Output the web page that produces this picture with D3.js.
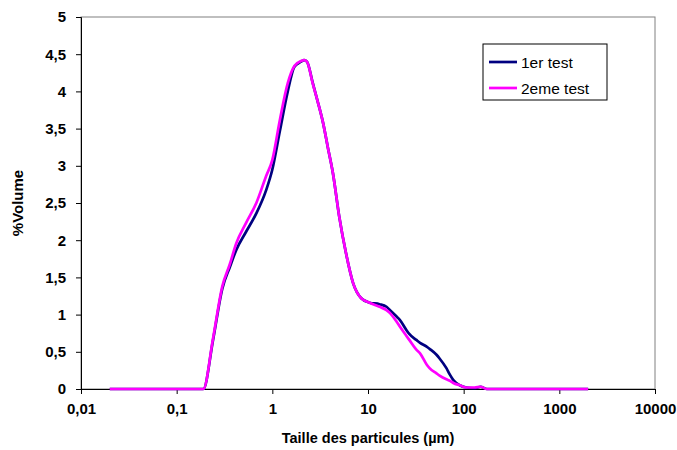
<!DOCTYPE html>
<html><head><meta charset="utf-8">
<script src="https://cdn.jsdelivr.net/npm/d3@7"></script>
<style>body{margin:0;background:#fff;}svg{display:block;font-family:"Liberation Sans",Arial,sans-serif;}</style>
</head><body>
<svg id="c" width="677" height="450"></svg>
<script>
const sizes = [0.02,0.05,0.1,0.15,0.19,0.24,0.3,0.36,0.42,0.53,0.68,0.86,1.0,1.2,1.45,1.7,2.0,2.15,2.3,2.65,3.0,3.4,3.8,4.3,5.0,5.9,7.0,8.5,10.4,13.2,15.6,17,20,21.5,25,27,32,35,41,44,52,56,66,72,78,91,107,130,150,175,200,500,1000,2000];
const test1 = [0,0,0,0,0,0.66,1.35,1.64,1.87,2.11,2.36,2.67,2.95,3.47,4.0,4.33,4.40,4.42,4.40,4.11,3.85,3.57,3.25,2.90,2.32,1.82,1.42,1.22,1.16,1.14,1.105,1.06,0.97,0.93,0.80,0.74,0.66,0.62,0.57,0.54,0.46,0.41,0.28,0.19,0.12,0.05,0.02,0.01,0.03,0,0,0,0,0];
const test2 = [0,0,0,0,0,0.68,1.38,1.68,1.96,2.23,2.50,2.86,3.08,3.62,4.11,4.34,4.41,4.42,4.40,4.10,3.85,3.57,3.25,2.90,2.32,1.82,1.42,1.22,1.16,1.105,1.06,1.02,0.90,0.84,0.72,0.66,0.53,0.48,0.33,0.28,0.21,0.18,0.13,0.11,0.08,0.05,0.02,0.02,0.03,0,0,0,0,0];
const seriesNames = ["1er test","2eme test"];
const seriesColors = ["#000080","#FF00FF"];
const xTicks = [0.01,0.1,1,10,100,1000,10000];
const xTickLabels = ["0,01","0,1","1","10","100","1000","10000"];
const yTicks = [0,0.5,1,1.5,2,2.5,3,3.5,4,4.5,5];

const svg = d3.select("#c");
const L=81, T=17, R=655, B=389;
const x = d3.scaleLog().domain([0.01,10000]).range([L,R]);
const y = d3.scaleLinear().domain([0,5]).range([B,T]);

svg.append("rect").attr("x",L).attr("y",T).attr("width",R-L).attr("height",B-T)
  .attr("fill","none").attr("stroke","#808080").attr("stroke-width",1);

const xAxis = svg.append("g").attr("transform",`translate(0,${B})`)
  .call(d3.axisBottom(x).tickValues(xTicks).tickFormat((d,i)=>xTickLabels[i]).tickSizeOuter(0).tickSize(5).tickPadding(9));
const yAxis = svg.append("g").attr("transform",`translate(${L},0)`)
  .call(d3.axisLeft(y).tickValues(yTicks).tickFormat(d=>String(d).replace(".",",")).tickSizeOuter(0).tickSize(5).tickPadding(10));
[xAxis,yAxis].forEach(g=>{
  g.selectAll("text").attr("font-size",15).attr("font-weight","bold").attr("fill","#000")
   .attr("font-family","'Liberation Sans',Arial,sans-serif");
  g.selectAll("line,path").attr("stroke","#000");
});

const line = d3.line().x((d,i)=>x(sizes[i])).y(d=>y(d)).curve(d3.curveMonotoneX);
[test1,test2].forEach((s,k)=>{
  svg.append("path").datum(s).attr("d",line).attr("fill","none")
    .attr("stroke",seriesColors[k]).attr("stroke-width",2.7).attr("stroke-linejoin","round");
});

svg.append("text").attr("x",(L+R)/2).attr("y",443).attr("text-anchor","middle")
  .attr("font-size",14.5).attr("font-weight","bold").text("Taille des particules (µm)");
svg.append("text").attr("transform","translate(23,203) rotate(-90)").attr("text-anchor","middle")
  .attr("font-size",15).attr("font-weight","bold").text("%Volume");

const lg = svg.append("g");
lg.append("rect").attr("x",483).attr("y",44).attr("width",124).attr("height",56)
  .attr("fill","#fff").attr("stroke","#000").attr("stroke-width",1);
seriesNames.forEach((n,k)=>{
  const yy = 62 + k*26;
  lg.append("line").attr("x1",489).attr("x2",517).attr("y1",yy).attr("y2",yy)
    .attr("stroke",seriesColors[k]).attr("stroke-width",2.7);
  lg.append("text").attr("x",521).attr("y",yy+5.5).attr("font-size",15.5).text(n);
});
</script>
</body></html>
